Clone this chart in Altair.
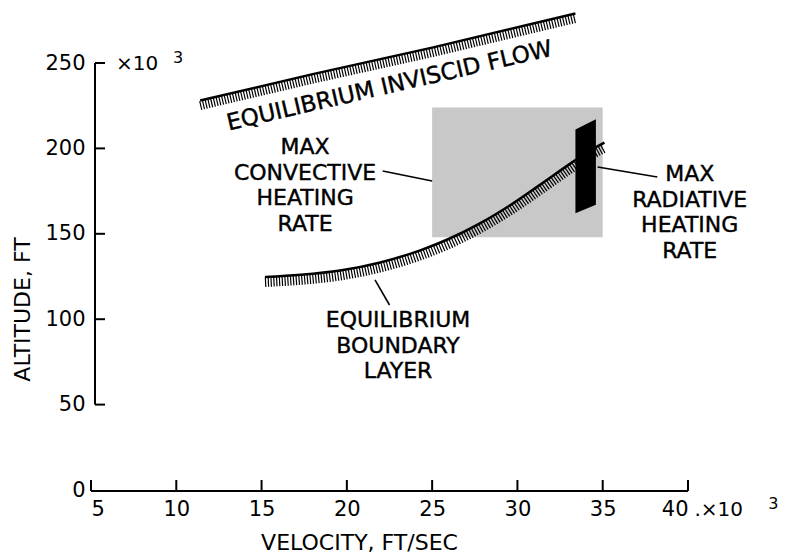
import altair as alt
import pandas as pd

# ---- data (velocity in 10^3 ft/s, altitude in 10^3 ft) ----
inv_v = [11.4, 18.0, 25.0, 33.4]
inv_h = [228.0, 243.5, 259.0, 279.0]

bl_v = [15.2, 17.3, 19.6, 21.9, 24.3, 26.0, 27.8, 29.6, 31.3, 33.1, 34.3, 35.1]
bl_h = [124.7, 126.0, 128.5, 133.1, 140.3, 147.1, 156.1, 166.9, 178.5, 191.1, 199.0, 203.4]

conv_v = [25.0, 35.0]
conv_h = [148.0, 224.0]

rad_v = [33.4, 34.6]
rad_top = [211.0, 217.0]
rad_bot = [162.0, 167.0]

lead_conv_v = [22.1, 25.0]
lead_conv_h = [186.8, 180.9]
lead_rad_v = [34.7, 38.2]
lead_rad_h = [189.1, 183.3]
lead_bl_v = [21.65, 22.5]
lead_bl_h = [123.0, 108.3]

x_ticks = [5, 10, 15, 20, 25, 30, 35, 40]
y_ticks = [50, 100, 150, 200, 250]
y_labels = [0, 50, 100, 150, 200, 250]

note_text = ["MAX\nCONVECTIVE\nHEATING\nRATE",
             "MAX\nRADIATIVE\nHEATING\nRATE",
             "EQUILIBRIUM\nBOUNDARY\nLAYER"]
note_v = [17.55, 40.1, 23.0]
note_h = [200.8, 185.0, 99.5]

inv_label = "EQUILIBRIUM INVISCID FLOW"
inv_label_v = [22.5]
inv_label_h = [236.5]

# ---- layout ----
W, H = 597, 427
FONT = "DejaVu Sans"
FS = 21

xs = alt.Scale(domain=[5, 40], nice=False, zero=False)
ys = alt.Scale(domain=[0, 250], nice=False, zero=False)

xaxis = alt.Axis(values=x_ticks, domain=False, ticks=False, tickSize=0, grid=False,
                 labelFont=FONT, labelFontSize=FS, labelColor="black", labelPadding=8,
                 title="VELOCITY, FT/SEC", titleFont=FONT, titleFontSize=22,
                 titleFontWeight="normal", titleColor="black",
                 titleX=268, titleY=52, titleAlign="center", titleBaseline="middle")
yaxis = alt.Axis(values=y_labels, domain=False, ticks=False, tickSize=0, grid=False,
                 labelFont=FONT, labelFontSize=FS, labelColor="black", labelPadding=6,
                 title="ALTITUDE, FT", titleFont=FONT, titleFontSize=22,
                 titleFontWeight="normal", titleColor="black",
                 titleX=-69, titleY=246, titleAngle=270, titleAlign="center",
                 titleBaseline="middle")


def X(f):
    return alt.X(f, type="quantitative", scale=xs, axis=xaxis)


def Y(f):
    return alt.Y(f, type="quantitative", scale=ys, axis=yaxis)


inv_df = pd.DataFrame({"v": inv_v, "h": inv_h})
bl_df = pd.DataFrame({"v": bl_v, "h": bl_h})
conv_df = pd.DataFrame({"v": [conv_v[0]], "v2": [conv_v[1]], "h": [conv_h[0]], "h2": [conv_h[1]]})
rad_df = pd.DataFrame({"v": rad_v, "t": rad_top, "b": rad_bot})
lead_df = pd.DataFrame({
    "v": lead_conv_v + lead_rad_v + lead_bl_v,
    "h": lead_conv_h + lead_rad_h + lead_bl_h,
    "g": ["c", "c", "r", "r", "b", "b"],
})
note_df = pd.DataFrame({"v": note_v, "h": note_h, "t": note_text})
inv_lab_df = pd.DataFrame({"v": inv_label_v, "h": inv_label_h, "t": [inv_label]})
xt_df = pd.DataFrame({"v": x_ticks})
yt_df = pd.DataFrame({"h": y_ticks})
yline_df = pd.DataFrame({"h": [y_ticks[0]], "h2": [y_ticks[-1]]})
xline_df = pd.DataFrame({"v": [x_ticks[0]], "v2": [x_ticks[-1]]})

conv_rect = alt.Chart(conv_df).mark_rect(color="#c8c8c8").encode(
    x=X("v"), x2="v2", y=Y("h"), y2="h2")

inv_hatch = alt.Chart(inv_df).mark_line(
    color="black", strokeWidth=9, strokeDash=[1.2, 1.6], strokeCap="butt", yOffset=5
).encode(x=X("v"), y=Y("h"))
inv_line = alt.Chart(inv_df).mark_line(color="black", strokeWidth=2.5).encode(x=X("v"), y=Y("h"))

bl_hatch = alt.Chart(bl_df).mark_line(
    color="black", strokeWidth=10, strokeDash=[1.2, 1.6], strokeCap="butt", yOffset=5,
    interpolate="monotone"
).encode(x=X("v"), y=Y("h"))
bl_line = alt.Chart(bl_df).mark_line(color="black", strokeWidth=2.5, interpolate="monotone").encode(
    x=X("v"), y=Y("h"))

rad_shape = alt.Chart(rad_df).mark_area(color="black", orient="vertical").encode(
    x=X("v"), y=Y("t"), y2="b")

leaders = alt.Chart(lead_df).mark_line(color="black", strokeWidth=1.6).encode(
    x=X("v"), y=Y("h"), detail="g")

notes = alt.Chart(note_df).mark_text(
    font=FONT, fontSize=22, color="black", align="center", baseline="middle",
    lineBreak="\n", lineHeight=25.5, stroke="black", strokeWidth=0.4
).encode(x=X("v"), y=Y("h"), text="t")

inv_lab = alt.Chart(inv_lab_df).mark_text(
    font=FONT, fontSize=23, color="black", align="center", baseline="middle", angle=347,
    stroke="black", strokeWidth=0.4
).encode(x=X("v"), y=Y("h"), text="t")

# axes drawn as rules (inward ticks, broken y axis)
y_line = alt.Chart(yline_df).mark_rule(color="black", strokeWidth=2).encode(
    y=Y("h"), y2="h2", x=alt.value(4))
y_tk = alt.Chart(yt_df).mark_rule(color="black", strokeWidth=2).encode(
    y=Y("h"), x=alt.value(4), x2=alt.value(14))
x_line = alt.Chart(xline_df).mark_rule(color="black", strokeWidth=2).encode(
    x=X("v"), x2="v2", y=alt.value(H + 1))
x_tk = alt.Chart(xt_df).mark_rule(color="black", strokeWidth=2).encode(
    x=X("v"), y=alt.value(H + 1), y2=alt.value(H - 10))

# multiplier notes
mult_df = pd.DataFrame({"v": [7.7, 41.8], "h": [249.4, -12.0], "t": ["×10", ".×10"]})
exp_df = pd.DataFrame({"v": [10.1, 45.0], "h": [253.0, -8.0], "t": ["3", "3"]})
mult = alt.Chart(mult_df).mark_text(
    font=FONT, fontSize=20, color="black", align="center", baseline="middle"
).encode(x=X("v"), y=Y("h"), text="t")
expo = alt.Chart(exp_df).mark_text(
    font=FONT, fontSize=16, color="black", align="center", baseline="middle"
).encode(x=X("v"), y=Y("h"), text="t")

chart = alt.layer(
    conv_rect, bl_hatch, bl_line, inv_hatch, inv_line, rad_shape, leaders,
    notes, inv_lab, y_line, y_tk, x_line, x_tk, mult, expo
).properties(
    width=W, height=H,
    autosize=alt.AutoSizeParams(type="none"),
    padding={"left": 91, "top": 63, "right": 104, "bottom": 69},
    background="white",
).configure_view(stroke=None)

chart.save("out.html", embed_options={"renderer": "svg", "actions": False})
